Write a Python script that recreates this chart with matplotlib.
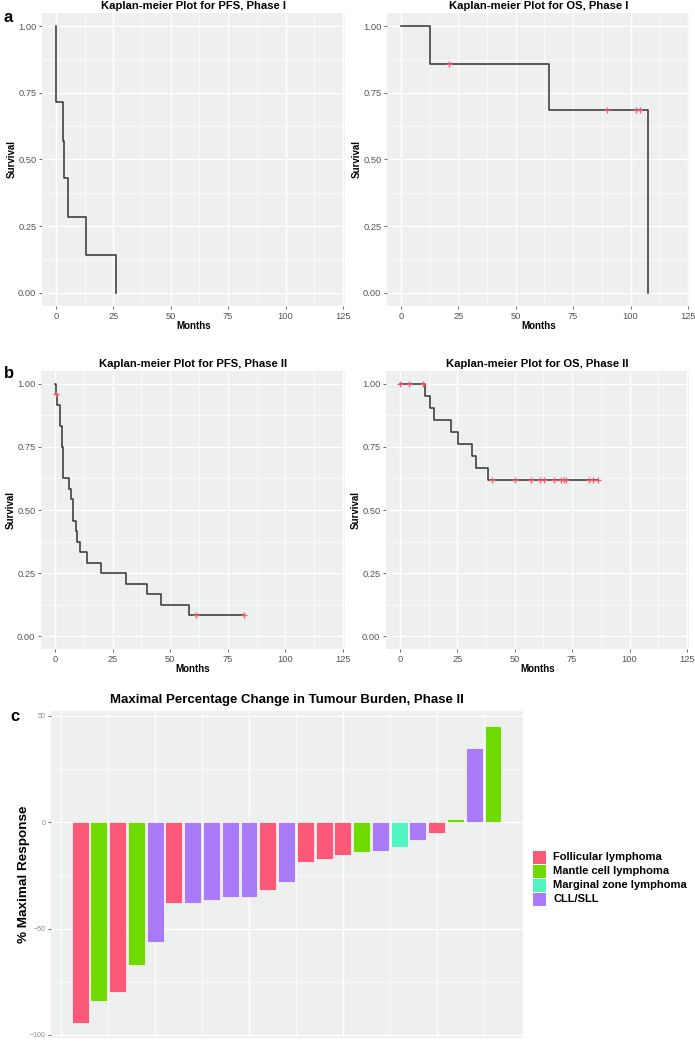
import numpy as np
import matplotlib
matplotlib.use("Agg")
import matplotlib.pyplot as plt
from matplotlib.patches import Rectangle

plt.rcParams['font.family'] = ['Liberation Sans', 'DejaVu Sans']

# courbes de Kaplan-Meier (temps en mois, survie)
pfs1_t = [0, 0, 3.0, 3.6, 5.1, 13.0, 26.0]
pfs1_s = [1.0, 0.714, 0.571, 0.429, 0.286, 0.143, 0.0]
pfs1_cens = []

os1_t = [0, 12.6, 64.6, 107.4]
os1_s = [1.0, 0.857, 0.686, 0.0]
os1_cens = [20.8, 89.6, 102.5, 104.3]

pfs2_t = [0, 0.2, 1.0, 2.2, 2.9, 3.6, 6.1, 7.1, 7.8, 9.0, 9.7, 10.7, 13.8, 19.9, 30.7, 39.9, 46.0, 58.0, 82.2]
pfs2_s = [1.0, 0.96, 0.917, 0.833, 0.75, 0.625, 0.583, 0.542, 0.458, 0.417, 0.375, 0.333, 0.292, 0.25, 0.208, 0.167, 0.125, 0.083, 0.083]
pfs2_cens = [0.4, 61.0, 82.2]

os2_t = [0, 10.9, 12.9, 14.8, 22.2, 25.1, 31.2, 32.9, 38.3, 86.3]
os2_s = [1.0, 0.952, 0.905, 0.857, 0.810, 0.762, 0.714, 0.667, 0.619, 0.619]
os2_cens = [0, 3.9, 10.0, 40.2, 50.3, 57.1, 61.2, 62.9, 67.3, 70.3, 71.4, 72.2, 82.2, 84.1, 86.3]

# réponse maximale (phase II)
reponse = [-94.5, -84.3, -79.9, -67.1, -56.4, -38.2, -38.2, -36.5, -35.4, -35.4, -31.7, -28.2,
           -18.5, -17.1, -15.4, -13.9, -13.6, -11.6, -8.5, -5.3, 1.6, 35.0, 45.3]
histo = ['FL', 'MCL', 'FL', 'MCL', 'CLL', 'FL', 'CLL', 'CLL', 'CLL', 'CLL', 'FL', 'CLL',
         'FL', 'FL', 'FL', 'MCL', 'CLL', 'MZL', 'CLL', 'FL', 'MCL', 'CLL', 'MCL']
histo_ordre = ['FL', 'MCL', 'MZL', 'CLL']
histo_noms = {'FL': 'Follicular lymphoma', 'MCL': 'Mantle cell lymphoma',
              'MZL': 'Marginal zone lymphoma', 'CLL': 'CLL/SLL'}
couleurs = {'FL': '#FC5878', 'MCL': '#6FDB00', 'MZL': '#52F5C2', 'CLL': '#A97BF8'}

fond = '#EEF0F0'
W, H = 695, 1050
fig = plt.figure(figsize=(W / 100, H / 100), dpi=100)


def boite(x0, x1, y0, y1):
    return [x0 / W, 1 - y1 / H, (x1 - x0) / W, (y1 - y0) / H]


def style_axe(ax, taille_ticks, couleur_ticks):
    ax.set_facecolor(fond)
    for s in ax.spines.values():
        s.set_visible(False)
    ax.grid(True, which='major', color='white', linewidth=0.9)
    ax.grid(True, which='minor', color='white', linewidth=0.45)
    ax.set_axisbelow(True)
    ax.tick_params(which='major', length=2.5, width=0.6, color='#555555',
                   labelsize=taille_ticks, labelcolor=couleur_ticks, pad=1.5)
    ax.tick_params(which='minor', length=0)


def km(ax, t, s, cens, titre):
    style_axe(ax, 6.7, '#555555')
    ax.step(t, s, where='post', color='#3a3a3a', linewidth=1.15)
    if cens:
        idx = np.searchsorted(t, cens, side='right') - 1
        ax.plot(cens, np.array(s)[idx], linestyle='none', marker='+',
                color='#F8576E', markersize=4.5, markeredgewidth=0.9)
    ax.set_xlim(-6.1, 125.9)
    ax.set_ylim(-0.05, 1.05)
    ax.set_xticks([0, 25, 50, 75, 100, 125])
    ax.set_xticks([12.5, 37.5, 62.5, 87.5, 112.5], minor=True)
    ax.set_yticks([0, 0.25, 0.5, 0.75, 1.0])
    ax.set_yticks([0.125, 0.375, 0.625, 0.875], minor=True)
    ax.set_yticklabels(['0.00', '0.25', '0.50', '0.75', '1.00'])
    ax.set_xlabel('Months', fontsize=7, fontweight='bold', labelpad=0)
    ax.set_ylabel('Survival', fontsize=7, fontweight='bold', labelpad=1)
    ax.set_title(titre, fontsize=8.1, fontweight='bold', pad=3)


ax1 = fig.add_axes(boite(42, 345, 13, 306))
km(ax1, pfs1_t, pfs1_s, pfs1_cens, 'Kaplan-meier Plot for PFS, Phase I')
ax2 = fig.add_axes(boite(387, 690, 13, 306))
km(ax2, os1_t, os1_s, os1_cens, 'Kaplan-meier Plot for OS, Phase I')
ax3 = fig.add_axes(boite(41, 345, 371, 649))
km(ax3, pfs2_t, pfs2_s, pfs2_cens, 'Kaplan-meier Plot for PFS, Phase II')
ax4 = fig.add_axes(boite(386, 689, 371, 649))
km(ax4, os2_t, os2_s, os2_cens, 'Kaplan-meier Plot for OS, Phase II')

# graphique en barres
ax5 = fig.add_axes(boite(51, 523, 711, 1038))
style_axe(ax5, 5, '#8a8a8a')
x = np.arange(1, len(reponse) + 1)
ax5.bar(x, reponse, width=0.9, color=[couleurs[h] for h in histo],
        edgecolor='#ffffff', linewidth=0.5)
ax5.set_xlim(-0.55, 24.6)
ax5.set_ylim(-101.5, 52.3)
ax5.set_xticks([0, 5, 10, 15, 20])
ax5.set_xticks([2.5, 7.5, 12.5, 17.5, 22.5], minor=True)
ax5.tick_params(axis='x', labelbottom=False, length=0)
ax5.set_yticks([-100, -50, 0, 50])
ax5.set_yticks([-75, -25, 25], minor=True)
ax5.set_ylabel('% Maximal Response', fontsize=9.7, fontweight='bold')
ax5.yaxis.set_label_coords((30 - 51) / 472, 0.5)
ax5.set_title('Maximal Percentage Change in Tumour Burden, Phase II',
              fontsize=9.5, fontweight='bold', pad=6)

# légende (clés accolées comme dans ggplot)
for i, k in enumerate(histo_ordre):
    haut = 851 + 14 * i
    fig.patches.append(Rectangle((533 / W, 1 - (haut + 13) / H), 13 / W, 13 / H,
                                 transform=fig.transFigure, facecolor=couleurs[k],
                                 edgecolor='none'))
    fig.text(553 / W, 1 - (haut + 6.5) / H, histo_noms[k], fontsize=8,
             fontweight='bold', va='center', ha='left')

# lettres des panneaux
fig.text(3 / W, 1 - 22 / H, 'a', fontsize=12, fontweight='bold')
fig.text(4 / W, 1 - 378 / H, 'b', fontsize=12, fontweight='bold')
fig.text(10 / W, 1 - 721 / H, 'c', fontsize=12, fontweight='bold')

fig.savefig('out.png', dpi=100, facecolor='white')
